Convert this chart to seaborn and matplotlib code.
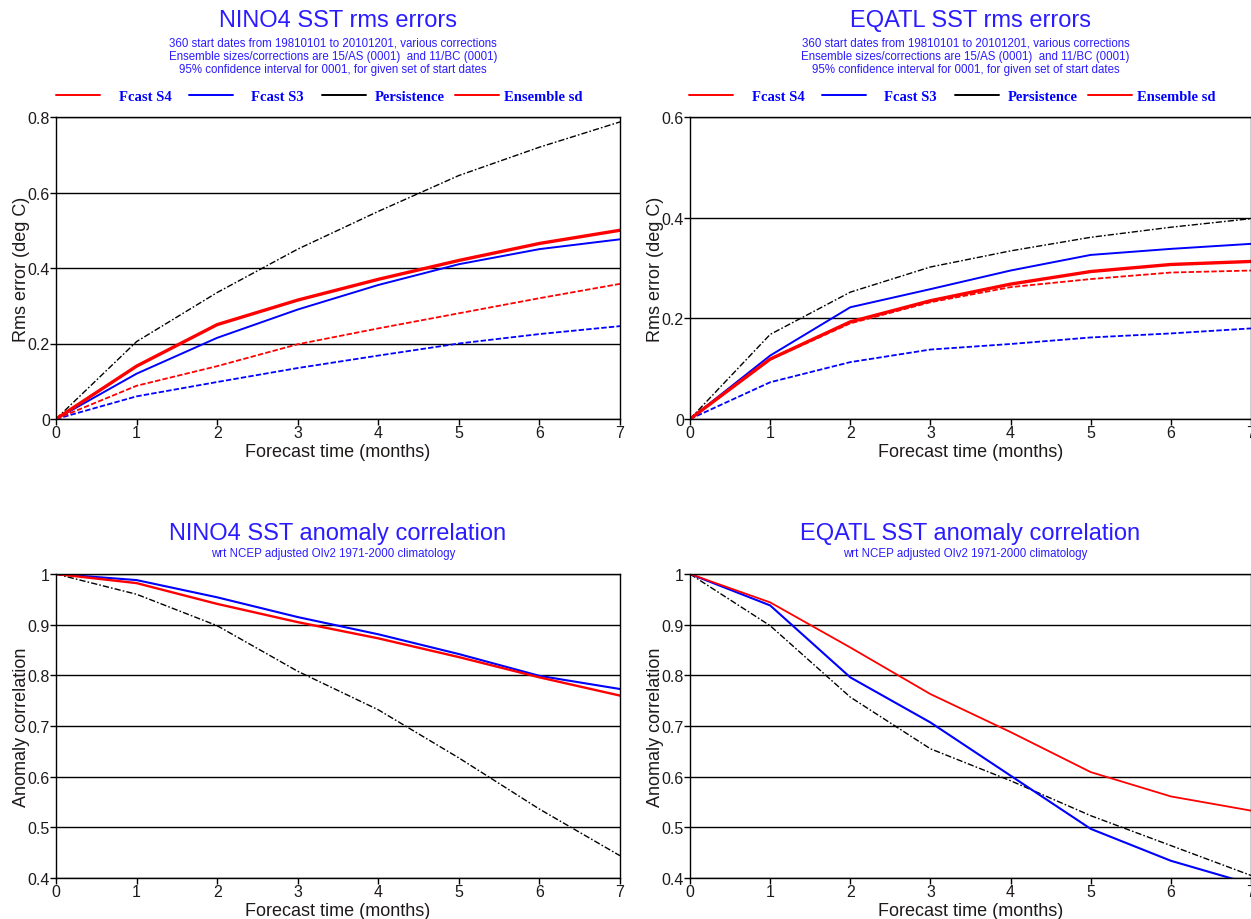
import matplotlib
matplotlib.use("Agg")
import matplotlib.pyplot as plt
from matplotlib.lines import Line2D
import seaborn as sns

# ---------------- data ----------------
lead = [0, 1, 2, 3, 4, 5, 6, 7]

nino4_rms_s4 = [0, 0.14, 0.25, 0.315, 0.37, 0.42, 0.465, 0.50]
nino4_rms_s3 = [0, 0.12, 0.215, 0.29, 0.355, 0.41, 0.45, 0.476]
nino4_rms_pers = [0, 0.205, 0.335, 0.45, 0.55, 0.645, 0.72, 0.787]
nino4_sd_s4 = [0, 0.088, 0.14, 0.198, 0.24, 0.28, 0.32, 0.358]
nino4_sd_s3 = [0, 0.06, 0.098, 0.135, 0.168, 0.20, 0.225, 0.246]

eqatl_rms_s4 = [0, 0.119, 0.193, 0.235, 0.268, 0.293, 0.307, 0.313]
eqatl_rms_s3 = [0, 0.126, 0.222, 0.258, 0.295, 0.326, 0.338, 0.348]
eqatl_rms_pers = [0, 0.168, 0.252, 0.302, 0.334, 0.361, 0.381, 0.398]
eqatl_sd_s4 = [0, 0.118, 0.19, 0.232, 0.262, 0.278, 0.291, 0.295]
eqatl_sd_s3 = [0, 0.073, 0.113, 0.138, 0.149, 0.162, 0.170, 0.180]

nino4_acc_s4 = [1, 0.982, 0.941, 0.905, 0.873, 0.836, 0.796, 0.760]
nino4_acc_s3 = [1, 0.988, 0.954, 0.915, 0.881, 0.842, 0.799, 0.773]
nino4_acc_pers = [1, 0.96, 0.898, 0.808, 0.732, 0.637, 0.536, 0.444]

eqatl_acc_s4 = [1, 0.944, 0.855, 0.763, 0.688, 0.609, 0.561, 0.533]
eqatl_acc_s3 = [1, 0.938, 0.796, 0.707, 0.602, 0.497, 0.434, 0.388]
eqatl_acc_pers = [1, 0.898, 0.757, 0.655, 0.592, 0.523, 0.464, 0.405]

rms_ticks = {"NINO4": [0, 0.2, 0.4, 0.6, 0.8], "EQATL": [0, 0.2, 0.4, 0.6]}
rms_ticklabels = {"NINO4": ["0", "0.2", "0.4", "0.6", "0.8"], "EQATL": ["0", "0.2", "0.4", "0.6"]}
acc_ticks = [0.4, 0.5, 0.6, 0.7, 0.8, 0.9, 1.0]
acc_ticklabels = ["0.4", "0.5", "0.6", "0.7", "0.8", "0.9", "1"]
x_ticklabels = ["0", "1", "2", "3", "4", "5", "6", "7"]

legend_labels = ["Fcast S4", "Fcast S3", "Persistence", "Ensemble sd"]
legend_colors = ["#ff0000", "#0000ff", "black", "#ff0000"]
subtitle_rms = ["360 start dates from 19810101 to 20101201, various corrections",
                "Ensemble sizes/corrections are 15/AS (0001)  and 11/BC (0001)",
                "95% confidence interval for 0001, for given set of start dates"]
subtitle_acc = "wrt NCEP adjusted OIv2 1971-2000 climatology"

# ---------------- style ----------------
sns.set_theme(style="white")
plt.rcParams["font.family"] = ["Liberation Sans", "DejaVu Sans"]

RED = "#ff0000"
BLUE = "#0000ff"
TITLE_C = "#2b1cff"
TXT_C = "#1e1a1a"
PERS_LS = (0, (4.5, 1.5, 1.2, 1.5))
SD_LS = (0, (3.0, 1.2))

W, H = 1251, 920
fig = plt.figure(figsize=(W / 100, H / 100), dpi=100)
fig.patch.set_facecolor("white")


def px_axes(left, right, top, bottom):
    return fig.add_axes([left / W, (H - bottom) / H, (right - left) / W, (bottom - top) / H])


def line(ax, y, color, lw, ls="-"):
    sns.lineplot(x=lead, y=y, ax=ax, color=color, linewidth=lw, linestyle=ls,
                 legend=False, errorbar=None)


def style_axes(ax, ticks, ticklabels, ylim, ylabel):
    ax.set_xlim(0, 7)
    ax.set_ylim(*ylim)
    ax.set_xticks(lead)
    ax.set_xticklabels(x_ticklabels)
    ax.set_yticks(ticks)
    ax.set_yticklabels(ticklabels)
    ax.grid(False)
    for t in ticks:
        ax.axhline(t, color="black", lw=1.0, zorder=0.5)
    for s in ax.spines.values():
        s.set_visible(True)
        s.set_color("black")
        s.set_linewidth(1.0)
    ax.tick_params(axis="both", direction="out", length=4.5, width=1.0, color="black",
                   labelsize=11.5, labelcolor=TXT_C, pad=0,
                   bottom=True, left=True, top=False, right=False)
    ax.set_xlabel("Forecast time (months)", fontsize=13, color=TXT_C)
    ax.set_ylabel(ylabel, fontsize=13, color=TXT_C)
    ax.xaxis.set_label_coords(0.5, -0.078)
    ax.yaxis.set_label_coords(-0.046, 0.5)
    ax.set_facecolor("white")


# ---------------- top: rms errors ----------------
axes_top = [
    ("NINO4", px_axes(56, 620, 118, 420), nino4_rms_s4, nino4_rms_s3, nino4_rms_pers,
     nino4_sd_s4, nino4_sd_s3, (0, 0.8), 56),
    ("EQATL", px_axes(690, 1251, 118, 420), eqatl_rms_s4, eqatl_rms_s3, eqatl_rms_pers,
     eqatl_sd_s4, eqatl_sd_s3, (0, 0.6), 689),
]

# per-entry gap between key and label (font-size units) so labels sit centred in equal slots
key_text_pads = [1.3, 1.27, 0.62, 0.38]
slot_px = 133
legend_font = {"family": ["Liberation Serif", "DejaVu Serif"], "size": 10.5, "weight": "bold"}

for region, ax, s4, s3, pers, sd4, sd3, ylim, leg_x0 in axes_top:
    line(ax, pers, "black", 1.0, PERS_LS)
    line(ax, sd3, BLUE, 1.3, SD_LS)
    line(ax, sd4, RED, 1.3, SD_LS)
    line(ax, s3, BLUE, 1.4)
    line(ax, s4, RED, 2.4)
    style_axes(ax, rms_ticks[region], rms_ticklabels[region], ylim, "Rms error (deg C)")

    bb = ax.get_position()
    xc = bb.x0 + bb.width / 2
    fig.text(xc, 1 - 27 / H, f"{region} SST rms errors", ha="center", va="baseline",
             fontsize=17, color=TITLE_C)
    for i, s in enumerate(subtitle_rms):
        fig.text(xc - 5 / W, 1 - (43 + 13.7 * i) / H, s, ha="center", va="center",
                 fontsize=8.3, color=TITLE_C)

    for i, (lab, col) in enumerate(zip(legend_labels, legend_colors)):
        leg = fig.legend([Line2D([], [], color=col, lw=1.4)], [lab], loc="center left",
                         bbox_to_anchor=((leg_x0 + i * slot_px) / W, 1 - 97 / H),
                         frameon=False, handlelength=3.0, handletextpad=key_text_pads[i],
                         borderpad=0, borderaxespad=0, prop=legend_font)
        for t in leg.get_texts():
            t.set_color(BLUE)

# ---------------- bottom: anomaly correlation ----------------
axes_bot = [
    ("NINO4", px_axes(56, 620, 575, 879), nino4_acc_s4, nino4_acc_s3, nino4_acc_pers, 1.7),
    ("EQATL", px_axes(690, 1251, 575, 879), eqatl_acc_s4, eqatl_acc_s3, eqatl_acc_pers, 1.3),
]

for region, ax, s4, s3, pers, redw in axes_bot:
    line(ax, pers, "black", 1.0, PERS_LS)
    line(ax, s3, BLUE, 1.5)
    line(ax, s4, RED, redw)
    style_axes(ax, acc_ticks, acc_ticklabels, (0.4, 1.0), "Anomaly correlation")

    bb = ax.get_position()
    xc = bb.x0 + bb.width / 2
    fig.text(xc, 1 - 540 / H, f"{region} SST anomaly correlation", ha="center",
             va="baseline", fontsize=17, color=TITLE_C)
    fig.text(xc - 5 / W, 1 - 554 / H, subtitle_acc, ha="center", va="center",
             fontsize=8.3, color=TITLE_C)

fig.savefig("out.png", dpi=100, facecolor="white")
